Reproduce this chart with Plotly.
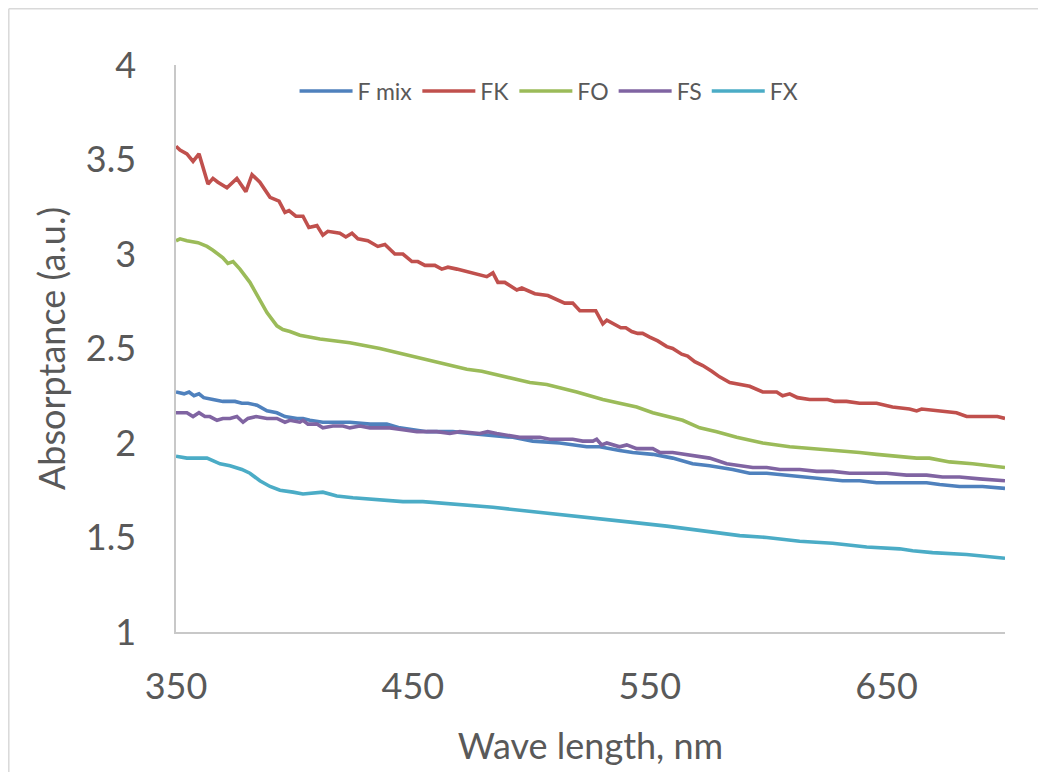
import plotly.graph_objects as go

# ---------------- data ----------------
fk_x = [350, 351.7, 354.6, 357.2, 359.7, 363.5, 365.6, 367.7, 371.5, 375.7, 379.5, 382.1, 385.4, 389.7,
        393.5, 396.0, 397.7, 400.6, 403.6, 406.1, 409.5, 412.0, 414.1, 419.2, 421.7, 424.3, 426.8, 431.0,
        435.2, 438.2, 442.4, 445.8, 449.6, 452.1, 455.1, 459.3, 462.2, 464.8, 468.6, 475.3, 481.2, 483.8,
        485.9, 488.8, 493.9, 496.0, 501.5, 507.0, 510.8, 514.1, 517.5, 520.5, 527.2, 530.2, 531.9, 535.2,
        537.8, 539.9, 542.4, 544.9, 547.0, 550.0, 553.4, 557.2, 559.7, 563.5, 566.0, 569.0, 572.4, 576.2,
        579.5, 583.8, 588.0, 592.2, 597.7, 603.6, 606.1, 609.1, 612.4, 617.5, 625.1, 628.1, 633.1, 638.6,
        645.8, 652.5, 659.7, 662.7, 664.8, 671.1, 679.5, 683.8, 690.5, 696.8, 700]
fk_y = [3.57, 3.55, 3.53, 3.49, 3.53, 3.37, 3.40, 3.38, 3.35, 3.40, 3.33, 3.42, 3.38, 3.30,
        3.28, 3.22, 3.23, 3.20, 3.20, 3.14, 3.15, 3.10, 3.12, 3.11, 3.09, 3.11, 3.08, 3.07,
        3.04, 3.05, 3.00, 3.00, 2.96, 2.96, 2.94, 2.94, 2.92, 2.93, 2.92, 2.90, 2.88, 2.90,
        2.85, 2.85, 2.81, 2.82, 2.79, 2.78, 2.76, 2.74, 2.74, 2.70, 2.70, 2.63, 2.65, 2.63,
        2.61, 2.61, 2.59, 2.58, 2.58, 2.56, 2.54, 2.51, 2.50, 2.47, 2.46, 2.43, 2.41, 2.38,
        2.35, 2.32, 2.31, 2.30, 2.27, 2.27, 2.25, 2.26, 2.24, 2.23, 2.23, 2.22, 2.22, 2.21,
        2.21, 2.19, 2.18, 2.17, 2.18, 2.17, 2.16, 2.14, 2.14, 2.14, 2.13]

fo_x = [350, 351.7, 354.6, 359.3, 363.1, 365.6, 369.8, 371.9, 374.1, 377.0, 381.2, 384.6, 388.4, 392.6,
        395.1, 398.1, 402.3, 410.8, 423.4, 436.1, 453.0, 465.6, 472.8, 479.1, 482.5, 486.7, 493.9, 499.4,
        506.5, 513.3, 519.2, 524.7, 530.2, 537.3, 544.5, 551.3, 558.4, 563.9, 571.1, 578.3, 586.7, 597.7,
        609.1, 620.5, 628.9, 638.6, 645.8, 655.5, 662.7, 668.1, 676.6, 686.3, 694.7, 700]
fo_y = [3.07, 3.08, 3.07, 3.06, 3.04, 3.02, 2.98, 2.95, 2.96, 2.92, 2.85, 2.77, 2.69, 2.62,
        2.60, 2.59, 2.57, 2.55, 2.53, 2.50, 2.45, 2.41, 2.39, 2.38, 2.37, 2.36, 2.34, 2.32,
        2.31, 2.29, 2.27, 2.25, 2.23, 2.21, 2.19, 2.16, 2.14, 2.12, 2.08, 2.06, 2.03, 2.00,
        1.98, 1.97, 1.96, 1.95, 1.94, 1.93, 1.92, 1.92, 1.90, 1.89, 1.88, 1.87]

fs_x = [350, 354.6, 357.2, 359.7, 362.2, 364.3, 367.3, 369.8, 372.8, 375.7, 378.3, 380.4, 383.8, 388.4,
        392.6, 394.7, 396.0, 398.1, 402.3, 403.6, 405.7, 409.5, 412.0, 416.2, 420.5, 423.4, 427.6, 431.9,
        437.3, 440.3, 445.8, 451.7, 455.9, 460.1, 465.6, 469.8, 478.3, 481.6, 485.4, 490.9, 495.1, 503.6,
        507.8, 513.3, 517.5, 521.7, 526.0, 527.6, 529.7, 531.9, 537.3, 540.3, 544.5, 551.3, 554.2, 559.7,
        565.6, 569.8, 575.3, 582.5, 588.0, 593.5, 599.4, 604.9, 613.3, 620.5, 627.2, 634.4, 641.6, 650.0,
        658.4, 666.9, 673.6, 680.8, 689.2, 700]
fs_y = [2.16, 2.16, 2.14, 2.16, 2.14, 2.14, 2.12, 2.13, 2.13, 2.14, 2.11, 2.13, 2.14, 2.13,
        2.13, 2.12, 2.11, 2.12, 2.11, 2.12, 2.10, 2.10, 2.08, 2.09, 2.09, 2.08, 2.09, 2.08,
        2.08, 2.08, 2.07, 2.06, 2.06, 2.06, 2.05, 2.06, 2.05, 2.06, 2.05, 2.04, 2.03, 2.03,
        2.02, 2.02, 2.02, 2.01, 2.01, 2.02, 1.99, 2.00, 1.98, 1.99, 1.97, 1.97, 1.95, 1.95,
        1.94, 1.93, 1.92, 1.89, 1.88, 1.87, 1.87, 1.86, 1.86, 1.85, 1.85, 1.84, 1.84, 1.84,
        1.83, 1.83, 1.82, 1.82, 1.81, 1.80]

fmix_x = [350, 353.4, 355.5, 357.6, 359.7, 361.7, 365.6, 369.8, 374.9, 377.8, 380.4, 384.2, 388.4, 392.6,
          396.0, 401.1, 403.6, 406.5, 412.0, 419.2, 423.4, 431.9, 439.0, 444.5, 450.0, 455.9, 461.4, 466.9,
          474.1, 492.2, 500.6, 512.0, 523.4, 528.9, 537.3, 542.8, 551.3, 559.7, 568.1, 575.3, 585.0, 592.2,
          599.4, 607.8, 616.2, 624.7, 631.4, 638.6, 645.8, 652.5, 661.0, 666.9, 672.4, 680.8, 690.5, 700]
fmix_y = [2.27, 2.26, 2.27, 2.25, 2.26, 2.24, 2.23, 2.22, 2.22, 2.21, 2.21, 2.20, 2.17, 2.16,
          2.14, 2.13, 2.13, 2.12, 2.11, 2.11, 2.11, 2.10, 2.10, 2.08, 2.07, 2.06, 2.06, 2.06,
          2.05, 2.03, 2.01, 2.00, 1.98, 1.98, 1.96, 1.95, 1.94, 1.92, 1.89, 1.88, 1.86, 1.84,
          1.84, 1.83, 1.82, 1.81, 1.80, 1.80, 1.79, 1.79, 1.79, 1.79, 1.78, 1.77, 1.77, 1.76]

fx_x = [350, 354.6, 363.1, 368.6, 372.8, 377.8, 381.2, 385.4, 389.7, 393.9, 399.4, 403.6, 412.0, 417.9,
        424.7, 434.8, 445.8, 454.2, 464.3, 474.1, 483.8, 498.1, 512.0, 527.6, 542.8, 557.2, 575.3, 588.0,
        599.4, 613.3, 627.2, 641.6, 655.5, 661.0, 669.4, 683.8, 700]
fx_y = [1.93, 1.92, 1.92, 1.89, 1.88, 1.86, 1.84, 1.80, 1.77, 1.75, 1.74, 1.73, 1.74, 1.72,
        1.71, 1.70, 1.69, 1.69, 1.68, 1.67, 1.66, 1.64, 1.62, 1.60, 1.58, 1.56, 1.53, 1.51,
        1.50, 1.48, 1.47, 1.45, 1.44, 1.43, 1.42, 1.41, 1.39]

series = [
    ("F mix", fmix_x, fmix_y, "#4F81BD"),
    ("FK", fk_x, fk_y, "#C0504D"),
    ("FO", fo_x, fo_y, "#9BBB59"),
    ("FS", fs_x, fs_y, "#8064A2"),
    ("FX", fx_x, fx_y, "#4BACC6"),
]

x_ticks = [350, 450, 550, 650]
y_ticks = [1, 1.5, 2, 2.5, 3, 3.5, 4]

# ---------------- figure ----------------
fig = go.Figure()
for name, xs, ys, col in series:
    fig.add_trace(go.Scatter(x=xs, y=ys, name=name, mode="lines",
                             line=dict(color=col, width=3.6)))

FONT = "Lato, 'Open Sans', sans-serif"
GREY = "#595959"
fig.update_layout(
    width=1038, height=764,
    margin=dict(l=168, r=41, t=57, b=140, autoexpand=False),
    paper_bgcolor="white", plot_bgcolor="white",
    font=dict(family=FONT, color=GREY),
    showlegend=True,
    legend=dict(orientation="h", x=0.143, xanchor="left", y=0.954, yanchor="middle",
                font=dict(size=23, color=GREY, family=FONT),
                bgcolor="rgba(0,0,0,0)", itemwidth=53, tracegroupgap=0),
    xaxis=dict(range=[350, 700], tickvals=x_ticks, ticktext=[str(v) for v in x_ticks],
               showgrid=False, zeroline=False, showline=True, linecolor="#C8C8C8", linewidth=1.5,
               ticks="", tickfont=dict(size=36, color=GREY), ticklabelstandoff=22, automargin=False,
               title=dict(text="Wave length, nm", font=dict(size=36, color=GREY), standoff=28)),
    yaxis=dict(range=[1, 4], tickvals=y_ticks, ticktext=["1", "1.5", "2", "2.5", "3", "3.5", "4"],
               showgrid=False, zeroline=False, showline=True, linecolor="#C8C8C8", linewidth=1.5,
               ticks="", tickfont=dict(size=36, color=GREY), ticklabelstandoff=31, automargin=False,
               title=dict(text="Absorptance (a.u.)", font=dict(size=36, color=GREY), standoff=9)),
    shapes=[
        dict(type="line", xref="paper", yref="paper", x0=-0.2017, x1=1.06, y0=1.0992, y1=1.0992,
             line=dict(color="#D9D9D9", width=1.5)),
        dict(type="line", xref="paper", yref="paper", x0=-0.2017, x1=-0.2017, y0=-0.26, y1=1.0992,
             line=dict(color="#D9D9D9", width=1.5)),
    ],
)

fig.write_html("out.html")
